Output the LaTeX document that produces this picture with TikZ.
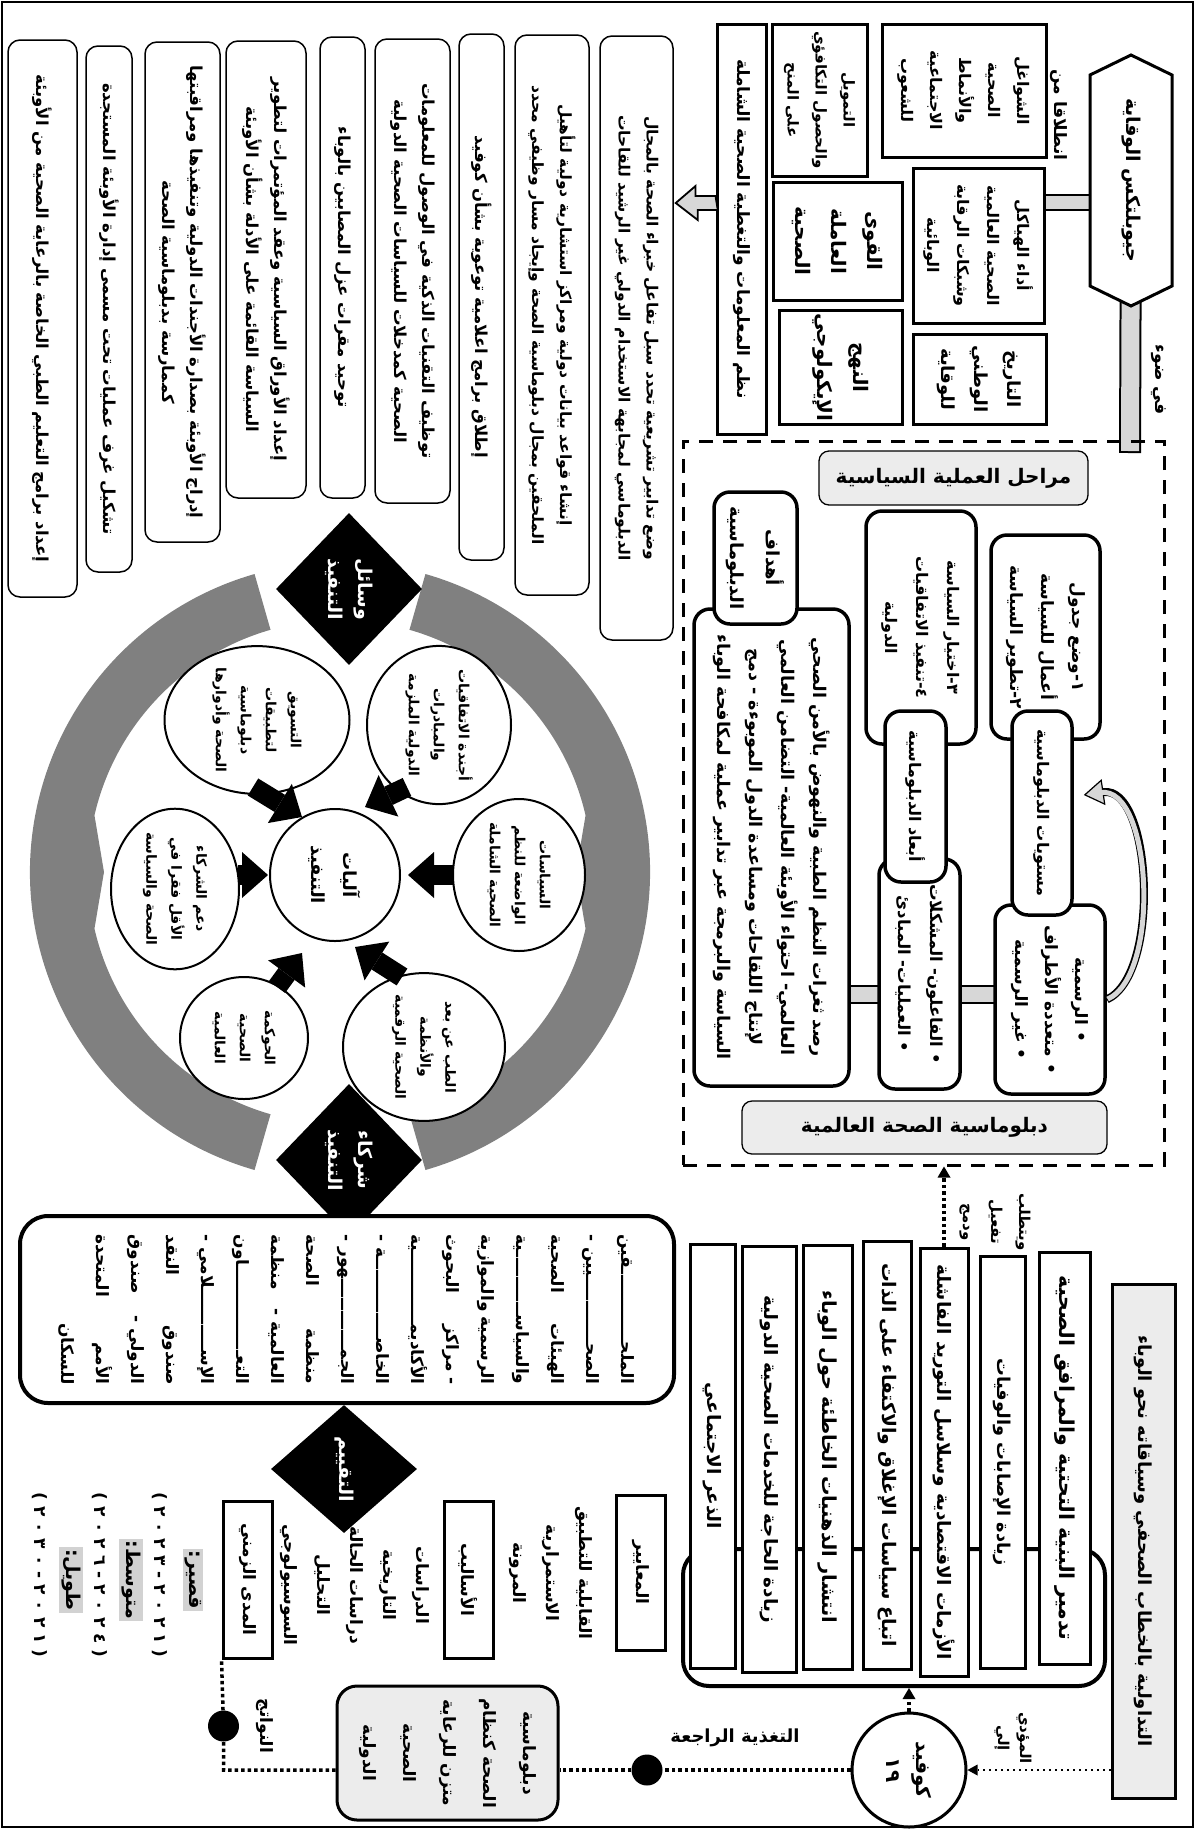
\documentclass[tikz,border=0pt]{standalone}
\usepackage{fontspec}
\usetikzlibrary{shapes.geometric, shapes.symbols, arrows.meta, backgrounds, calc}
\newfontfamily\arabicfont[Script=Arabic]{DejaVu Sans}
\newfontfamily\latinfont{DejaVu Sans}
\TeXXeTstate=1
\newcommand{\ar}[1]{\beginR #1\endR}
\newcommand{\fs}[2]{\arabicfont\bfseries\fontsize{#1}{#2}\selectfont}
\newcommand{\kf}{\xleaders\hbox{ـ}\hfill}
\newcommand{\jline}[1]{\hbox to 150pt{\beginR #1\endR}}
\newcommand{\yrs}[8]{{\latinfont\bfseries (}\ #1\ #2\ #3\ #4\ -\ #5\ #6\ #7\ #8\ {\latinfont\bfseries )}}
\definecolor{ringgray}{RGB}{128,128,128}
\definecolor{bargray}{RGB}{215,215,215}
\definecolor{taggray}{RGB}{236,236,236}
\definecolor{markgray}{RGB}{210,210,210}

\begin{document}
\begin{tikzpicture}[
    x=1pt, y=-1pt,
    rot/.style={rotate=-90, align=center},
    wh/.style 2 args={minimum height=#1, minimum width=#2},
    col/.style={rot, draw, line width=1.5pt, rounded corners=12pt, fill=white, inner sep=3pt, font={\fs{16.5}{28}}},
    sqbox/.style={rot, draw, line width=3pt, fill=white, inner sep=3pt, font={\fs{17}{30}}},
    rbox/.style={rot, draw, line width=3.5pt, rounded corners=16pt, fill=white, inner sep=3pt, font={\fs{16}{31}}},
    tagbox/.style={draw, line width=1.3pt, rounded corners=10pt, fill=taggray, font={\fs{20}{24}}},
    blob/.style={rot, ellipse, draw, line width=2pt, fill=white, inner sep=0pt, font={\fs{14}{25}}},
    dia/.style={rot, diamond, fill=black, text=white, inner sep=0pt, font={\fs{19}{30}}},
    lbl/.style={rot, inner sep=1pt, font={\fs{17}{33}}},
    hilite/.style={rot, fill=markgray, inner sep=2pt, font={\fs{19}{24}}},
    blackdot/.style={circle, fill=black, minimum size=31pt, inner sep=0pt},
    blk/.style={line width=20pt, -{Triangle[length=26pt, width=46pt, line width=0pt]}},
    dotline/.style={line width=3.5pt, dash pattern=on 3.5pt off 3pt},
    dotarrow/.style={dotline, -{Triangle[length=11pt, width=13pt, line width=0pt]}},
    thindot/.style={line width=2pt, dash pattern=on 2pt off 4pt, -{Triangle[length=10pt, width=11pt, line width=0pt]}}
]
    \useasboundingbox (0,0) rectangle (1195,1829);
    \draw[line width=1.5pt] (2,2) rectangle (1193,1827);

    % Tools of implementation (columns)
    \node[col, wh={69pt}{557pt}] (c1) at (42.5,318.5) {\ar{إعداد برامج التعليم الطبي الخاصة بالرعاية الصحية من الأوبئة}};
    \node[col, wh={46pt}{526pt}] (c2) at (109,309) {\ar{تشكيل غرف عمليات تحت مسمى إدارة الأوبئة المستجدة}};
    \node[col, wh={75pt}{500pt}] (c3) at (182.5,292) {\ar{إدراج الأوبئة بصدارة الأجندات الدولية وتنفيذها ومراقبتها}\\\ar{كممارسة بدبلوماسية الصحة}};
    \node[col, wh={80pt}{457pt}] (c4) at (266,269.5) {\ar{إعداد الأوراق السياسية وعقد المؤتمرات لتطوير}\\\ar{السياسة القائمة على الأدلة بشأن الأوبئة}};
    \node[col, wh={45pt}{461pt}] (c5) at (342.5,267.5) {\ar{توحيد مقرات عزل المصابين بالوباء}};
    \node[col, wh={75pt}{464pt}] (c6) at (412.5,271) {\ar{توظيف التقنيات الذكية في الوصول للمعلومات}\\\ar{الصحية كمدخلات للسياسات الصحية الدولية}};
    \node[col, wh={45pt}{526pt}] (c7) at (481.5,297) {\ar{إطلاق برامج اعلامية توعوية بشأن كوفيد}};
    \node[col, wh={74pt}{560pt}, font={\fs{15.5}{28}}] (c8) at (552,315) {\ar{إنشاء قواعد بيانات دولية ومراكز استشارية دولية لتأهيل}\\\ar{الملحقين بمجال دبلوماسية الصحة وإيجاد مسار وظيفي محدد}};
    \node[col, wh={73pt}{604pt}, font={\fs{15.5}{28}}] (c9) at (636.5,338) {\ar{وضع تدابير تشريعية تحدد سبل تفاعل خبراء الصحة بالمجال}\\\ar{الدبلوماسي لمجابهة الاستخدام الدولي غير الرشيد للقاحات}};

    % Geopolitics of prevention
    \node[sqbox, wh={49pt}{410pt}] (info) at (741.5,229) {\ar{نظم المعلومات والتغطية الصحية الشاملة}};
    \node[sqbox, wh={95pt}{152pt}, font={\fs{15}{28}}] (fund) at (819.5,100) {\ar{التمويل}\\\ar{والحصول التكافؤي}\\\ar{على المنح}};
    \node[sqbox, wh={129pt}{118pt}, font={\fs{20}{36}}] (work) at (837.5,241) {\ar{القوى}\\\ar{العاملة}\\\ar{الصحية}};
    \node[sqbox, wh={123pt}{111pt}, font={\fs{20}{36}}] (eco) at (840.5,367.5) {\ar{النهج}\\\ar{الإيكولوجي}};
    \node[sqbox, wh={164pt}{133pt}, font={\fs{16}{29}}] (conc) at (964,90.5) {\ar{الشواغل}\\\ar{الصحية}\\\ar{والأنماط}\\\ar{الاجتماعية}\\\ar{للشعوب}};
    \node[sqbox, wh={131pt}{155pt}, font={\fs{16}{30}}] (perf) at (978.5,245.5) {\ar{أداء الهياكل}\\\ar{الصحية العالمية}\\\ar{وشبكات الرقابة}\\\ar{الوبائية}};
    \node[sqbox, wh={133pt}{90pt}, font={\fs{18}{33}}] (hist) at (979.5,379) {\ar{التاريخ}\\\ar{الوطني}\\\ar{للوقاية}};
    \node[rot, signal, signal to=east and west, signal pointer angle=128, draw, line width=3pt, fill=white, wh={82pt}{251pt}, font={\fs{19}{26}}] (hex) at (1131,180.5) {\ar{جيوبلتكس الوقاية}};
    \node[lbl] (from) at (1059,115) {\ar{انطلاقا من}};
    \node[lbl] (light) at (1159,380) {\ar{في ضوء}};

    \draw[fill=bargray, line width=1.8pt] ($(info.south |- 0,203)+(0,-7)$) -- ++(-20,0) -- ++(0,-10) -- ($(c9.north |- 0,203)+(2,0)$) -- ++(22,17) -- ++(0,-10) -- ++(20,0) -- cycle;

    % Global health diplomacy
    \node[draw, line width=3pt, dash pattern=on 14pt off 10pt, minimum width=481pt, minimum height=724pt] (dash) at (923.5,803) {};
    \node[tagbox, minimum width=269pt, minimum height=54pt] (stages) at (953.5,478) {\ar{مراحل العملية السياسية}};
    \node[tagbox, minimum width=365pt, minimum height=53pt] (ghd) at (924.5,1127.5) {\ar{دبلوماسية الصحة العالمية}};
    \node[rbox, wh={109pt}{204pt}, font={\fs{17}{31}}] (agenda) at (1045.5,637) {\ar{١-وضع جدول}\\\ar{أعمال للسياسة}\\\ar{٢-تطوير السياسة}};
    \node[rbox, wh={110pt}{189pt}, font={\fs{17}{30}}] (offic) at (1050,999.5) {\ar{• الرسمية}\\\ar{• متعددة الأطراف}\\\ar{• غير الرسمية}};
    \node[rbox, wh={60pt}{204pt}] (levels) at (1042,813) {\ar{مستويات الدبلوماسية}};
    \node[rbox, wh={110pt}{233pt}] (choose) at (921,627.5) {\ar{٣-اختيار السياسة}\\\ar{٤-تنفيذ الاتفاقيات}\\\ar{الدولية}};
    \node[rbox, wh={81pt}{230pt}, font={\fs{16.5}{32}}] (actors) at (919.5,974) {\ar{• الفاعلون- المشكلات}\\\ar{• العمليات- المبادئ}};
    \node[rbox, wh={61pt}{171pt}] (dims) at (915.5,796.5) {\ar{أبعاد الدبلوماسية}};
    \node[rbox, wh={155pt}{477pt}, font={\fs{17.5}{32}}] (gbig) at (771.5,847.5) {\ar{رصد ثغرات النظم الطبية والنهوض بالأمن الصحي}\\\ar{العالمي- احتواء الأوبئة العالمية- التضامن العالمي}\\\ar{لإنتاج اللقاحات ومساعدة الدول الموبوءة - دمج}\\\ar{السياسة والبرمجة عبر تدابير عملية لمكافحة الوباء}};
    \node[rbox, wh={83pt}{132pt}, font={\fs{18}{36}}] (goals) at (755.5,558) {\ar{أهداف}\\\ar{الدبلوماسية}};

    \draw[line width=8pt, -{Triangle[length=20pt, width=26pt, line width=1.2pt, fill=bargray]}] (offic.north) .. controls +(55,-25) and +(68,-10) .. ($(levels.north)+(10,-18)$);
    \draw[line width=5pt, bargray, shorten >=17pt, shorten <=1pt] (offic.north) .. controls +(55,-25) and +(68,-10) .. ($(levels.north)+(10,-18)$);

    % Mechanisms of implementation
    \coordinate (rc) at (340,872);
    \fill[ringgray] ($(rc)+(106:310)$) arc[start angle=106, end angle=254, radius=310] -- ($(rc)+(254:252)$) arc[start angle=254, end angle=193, radius=252] -- ($(rc)+(180:236)$) -- ($(rc)+(167:252)$) arc[start angle=167, end angle=106, radius=252] -- cycle;
    \fill[ringgray] ($(rc)+(-74:310)$) arc[start angle=-74, end angle=74, radius=310] -- ($(rc)+(74:252)$) arc[start angle=74, end angle=13, radius=252] -- ($(rc)+(0:236)$) -- ($(rc)+(-13:252)$) arc[start angle=-13, end angle=-74, radius=252] -- cycle;
    \node[dia, wh={146pt}{152pt}] (tools) at (349,589) {\ar{وسائل}\\\ar{التنفيذ}};
    \node[dia, wh={146pt}{152pt}] (partn) at (349,1160) {\ar{شركاء}\\\ar{التنفيذ}};

    \node[blob, wh={130pt}{132pt}, font={\fs{18}{32}}] (cen) at (335,875) {\ar{آليات}\\\ar{التنفيذ}};
    \node[blob, wh={185pt}{131pt}] (e1) at (257,720) {\ar{التسويق}\\\ar{لتطبيقات}\\\ar{دبلوماسية}\\\ar{الصحة وأدوارها}};
    \node[blob, wh={144pt}{140pt}] (e2) at (439,725) {\ar{أجندة الاتفاقيات}\\\ar{والمبادرات}\\\ar{الدولية الملزمة}};
    \node[blob, wh={132pt}{152pt}] (e3) at (519,875) {\ar{السياسات}\\\ar{الواضعة للنظم}\\\ar{الصحية الشاملة}};
    \node[blob, wh={128pt}{138pt}] (e4) at (175,889) {\ar{دعم الشركاء}\\\ar{الأقل فقرا في}\\\ar{الصحة والسياسة}};
    \node[blob, wh={128pt}{122pt}] (e5) at (244,1038) {\ar{الحوكمة}\\\ar{الصحية}\\\ar{العالمية}};
    \node[blob, wh={162pt}{144pt}] (e6) at (424,1047) {\ar{الطب عن بعد}\\\ar{والأنظمة}\\\ar{الصحية الرقمية}};

    \draw[blk] ($(e1)+(-4,67)$) -- ($(cen)+(-33,-58)$);
    \draw[blk] ($(e2)+(-32,62)$) -- ($(cen)+(30,-68)$);
    \draw[blk] ($(e3)+(-66,0)$) -- ($(cen)+(73,0)$);
    \draw[blk] ($(e4)+(63,-14)$) -- ($(cen)+(-67,0)$);
    \draw[blk] ($(e5)+(33,-51)$) -- ($(cen)+(-33,78)$);
    \draw[blk] ($(e6)+(-22,-70)$) -- ($(cen)+(20,72)$);

    % Partners
    \node[rot, draw, line width=4pt, rounded corners=28pt, fill=white, wh={654pt}{187pt}, font={\fs{17}{35}}] (partners) at (347,1309.5) {\jline{الملحـ\kf ـقين}\\\jline{الصحـ\kf ـيين -}\\\jline{الهيئات\hfill الصحية}\\\jline{والسياسـ\kf ـية}\\\jline{الرسمية\hfill والموازية}\\\jline{- مراكز\hfill البحوث}\\\jline{الأكاديمـ\kf ـية}\\\jline{الخاصـ\kf ـة -}\\\jline{الجمـ\kf ـهور -}\\\jline{منظمة\hfill الصحة}\\\jline{العالمية -\hfill منظمة}\\\jline{التعـ\kf ـاون}\\\jline{الإسـ\kf ـلامي -}\\\jline{صندوق\hfill النقد}\\\jline{الدولي -\hfill صندوق}\\\jline{الأمم\hfill المتحدة}\\\hbox to 150pt{\hfill\beginR للسكان\endR}};

    % Evaluation
    \node[dia, wh={146pt}{128pt}] (evalu) at (344,1469) {\ar{التقييم}};
    \node[sqbox, wh={49pt}{155pt}] (crit) at (640.5,1572.5) {\ar{المعايير}};
    \node[lbl] (crittxt) at (551,1573) {\ar{القابلية للتطبيق}\\\ar{الاستمرارية}\\\ar{المرونة}};
    \node[sqbox, wh={49pt}{157pt}] (meth) at (468.5,1579.5) {\ar{الأساليب}};
    \node[lbl] (methtxt) at (355,1585) {\ar{الدراسات}\\\ar{التاريخية}\\\ar{دراسات الحالة}\\\ar{التحليل}\\\ar{السوسيولوجي}};
    \node[sqbox, wh={49pt}{157pt}] (range) at (247.5,1579.5) {\ar{المدى الزمني}};
    \node[hilite] (short) at (193,1580) {\ar{قصير:}};
    \node[lbl] (shorty) at (160,1575) {\yrs{٢}{٠}{٢}{٣}{٢}{٠}{٢}{١}};
    \node[hilite] (mid) at (131,1580) {\ar{متوسط:}};
    \node[lbl] (midy) at (100,1575) {\yrs{٢}{٠}{٢}{٦}{٢}{٠}{٢}{٤}};
    \node[hilite] (long) at (71,1580) {\ar{طويل:}};
    \node[lbl] (longy) at (40,1575) {\yrs{٢}{٠}{٣}{٠}{٢}{٠}{٢}{١}};

    % Covid context
    \node[draw, line width=4pt, rounded corners=26pt, minimum width=422pt, minimum height=137pt] (frame) at (894,1617.5) {};
    \node[sqbox, wh={51pt}{412pt}, font={\fs{20.5}{30}}] (b1) at (1064.5,1458) {\ar{تدمير البنية التحتية والمرافق الصحية}};
    \node[sqbox, wh={45pt}{412pt}, font={\fs{17.7}{30}}] (b2) at (1002.5,1462) {\ar{زيادة الإصابات والوفيات}};
    \node[sqbox, wh={48pt}{428pt}, font={\fs{18.5}{30}}] (b3) at (944,1462) {\ar{الأزمات الاقتصادية وسلاسل التوريد الفاشلة}};
    \node[sqbox, wh={48pt}{428pt}, font={\fs{18.7}{30}}] (b4) at (887,1455) {\ar{اتباع سياسات الإغلاق والاكتفاء على الذات}};
    \node[sqbox, wh={49pt}{424pt}, font={\fs{19.3}{30}}] (b5) at (827.5,1457) {\ar{انتشار الذهنيات الخاطئة حول الوباء}};
    \node[sqbox, wh={54pt}{426pt}, font={\fs{18.4}{30}}] (b6) at (769,1459) {\ar{زيادة الحاجة للخدمات الصحية الدولية}};
    \node[sqbox, wh={45pt}{424pt}, font={\fs{18.5}{30}}] (b7) at (712.5,1456) {\ar{الذعر الاجتماعي}};
    \node[rot, draw, line width=3pt, fill=taggray, wh={63pt}{514pt}, font={\fs{18}{26}}] (tad) at (1143.5,1541) {\ar{التداولية بالخطاب الصحفي وسياقاته نحو الوباء}};
    \node[rot, circle, draw, line width=3pt, fill=white, minimum size=114pt, inner sep=0pt, font={\fs{20}{30}}] (covid) at (909,1770) {\ar{كوفيد}\\١٩};
    \node[rot, draw, line width=3pt, rounded corners=20pt, fill=taggray, wh={221pt}{134pt}, font={\fs{17}{40}}] (hsys) at (447.5,1753) {\ar{دبلوماسية}\\\ar{الصحة كنظام}\\\ar{متزن للرعاية}\\\ar{الصحية}\\\ar{الدولية}};
    \node[blackdot] (fbdot) at (647,1770) {};
    \node[blackdot] (tdot) at (223.5,1726) {};
    \node[lbl, font={\fs{15}{22}}] (leads) at (1013,1738) {\ar{المؤدي}\\\ar{إلي}};
    \node[lbl, font={\fs{15}{28}}] (req) at (995,1222) {\ar{ويتطلب}\\\ar{تفعيل}\\\ar{ودمج}};
    \node[lbl] (outc) at (265,1726) {\ar{النواتج}};
    \node[font={\fs{18}{22}}] (fbl) at (735,1738) {\ar{التغذية الراجعة}};

    \draw[thindot] (tad.south |- covid) -- (covid);
    \draw[dotarrow] (covid) -- (covid |- frame.south);
    \draw[dotarrow] (b3.west) -- (b3.west |- dash.south);
    \draw[dotline] (covid) -- (fbdot) -- (hsys.north |- covid);
    \draw[dotline] (hsys.south |- covid) -- (tdot |- covid) -- (tdot) -- (range.south east);

    % Bars behind the boxes
    \begin{scope}[on background layer]
        \draw[line width=17pt] (hex.center |- 0,202.5) -- (perf.center |- 0,202.5);
        \draw[line width=13pt, bargray] (hex.center |- 0,202.5) -- (perf.center |- 0,202.5);
        \draw[line width=22pt] (hex.center) -- (1130,453);
        \draw[line width=18pt, bargray] (hex.center) -- (1130,451);
        \draw[line width=19pt] (gbig.center |- 0,994) -- (offic.center |- 0,994);
        \draw[line width=15pt, bargray] (gbig.center |- 0,994) -- (offic.center |- 0,994);
    \end{scope}
\end{tikzpicture}
\end{document}
